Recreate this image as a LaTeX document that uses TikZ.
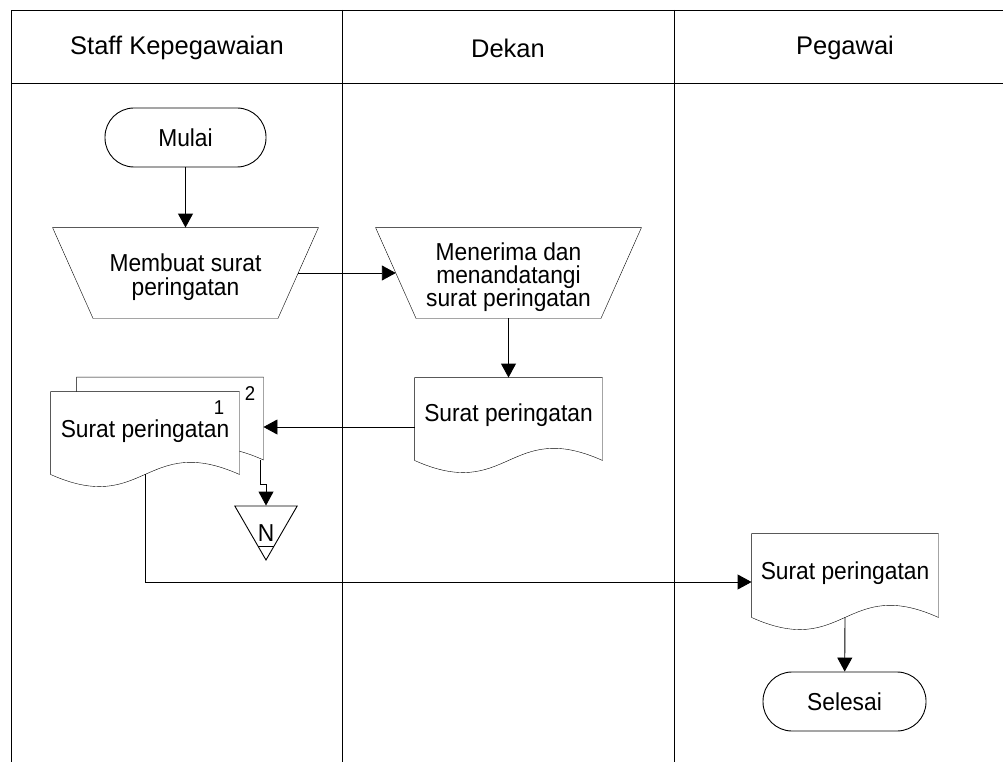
\documentclass[tikz,border=0pt]{standalone}
\usepackage{fontspec}
\setmainfont{Liberation Sans}
\newfontfamily\bodyfont{Liberation Sans}[FakeStretch=0.93]
\usetikzlibrary{arrows.meta,calc,shapes.geometric,backgrounds}
\newcommand\drawdocshape[2]{%
  \draw[fill=white] (#1.north west) -- (#1.south west)
    .. controls ([xshift=#2, yshift=-42pt]#1.south west) and ([xshift=-#2, yshift=42pt]#1.south east) .. (#1.south east)
    -- (#1.north east) -- cycle;}
\begin{document}
\begin{tikzpicture}[x=1pt,y=-1pt, line width=0.9pt,
  every node/.style={font=\bodyfont\fontsize{24.5}{23.3}\selectfont, inner sep=0pt, align=center},
  hdr/.style={font=\fontsize{25.5}{26}\selectfont},
  num/.style={font=\bodyfont\fontsize{20}{20}\selectfont},
  term/.style={draw, rounded corners=29pt, minimum width=161pt, minimum height=59pt},
  opbox/.style={minimum width=224.5pt, minimum height=90pt},
  docbox/.style={minimum width=186pt, minimum height=82pt, text height=17pt, text depth=11pt},
  arr/.style={-{Triangle[length=14pt,width=15pt]}},
]
\useasboundingbox (0,0) rectangle (1003,762);
% frame
\draw (11,762) -- (11,10) -- (1003,10);
\draw (11,83) -- (1003,83);
\draw (342,10) -- (342,762);
\draw (674,10) -- (674,762);
% headers
\node[hdr] (h1) at (177,48) {Staff Kepegawaian};
\node[hdr] (h2) at (508,48) {Dekan};
\node[hdr] (h3) at (845,48) {Pegawai};
% nodes
\node[term] (start) at (185.5,137.5) {Mulai};
\node[opbox] (mem) at (185.5,273) {\rule{0pt}{25.8pt}Membuat surat\\peringatan};
\node[opbox] (men) at (508.5,273) {\rule{0pt}{25.8pt}Menerima dan\\menandatangi\\surat peringatan};
\node[docbox, minimum width=187pt, text depth=13pt] (dd) at (508.5,419) {Surat peringatan};
\node[docbox, text height=0pt, text depth=0pt] (sp2) at (170,418.5) {};
\node[docbox, minimum width=188pt, text depth=9pt] (sp1) at (145,433) {Surat peringatan};
\node[num] (n1) at (219,408) {1};
\node[num] (n2) at (250,394) {2};
\node[draw, regular polygon, regular polygon sides=3, shape border rotate=180, minimum size=72pt] (nn) at (266,524) {};
\node (nl) at (266,533) {N};
\node[docbox, minimum height=83pt, text depth=10pt] (pd) at (845,575.5) {Surat peringatan};
\node[term, minimum width=163pt] (end) at (844.5,701.5) {Selesai};
% outlines
\begin{scope}[on background layer]
\draw ([xshift=-20.25pt]mem.north west) -- ([xshift=20.25pt]mem.north east) -- ([xshift=-20.25pt]mem.south east) -- ([xshift=20.25pt]mem.south west) -- cycle;
\draw ([xshift=-20.25pt]men.north west) -- ([xshift=20.25pt]men.north east) -- ([xshift=-20.25pt]men.south east) -- ([xshift=20.25pt]men.south west) -- cycle;
\drawdocshape{dd}{93.5pt}
\drawdocshape{sp2}{93pt}
\drawdocshape{sp1}{94pt}
\drawdocshape{pd}{93pt}
\end{scope}
\draw ([xshift=-8pt,yshift=-22pt]nn.center) -- ([xshift=8pt,yshift=-22pt]nn.center);
% connectors
\draw[arr] (start) -- (mem);
\draw[arr] (mem.east) -- (men.west);
\draw[arr] (men) -- (dd);
\draw[arr] ([yshift=-8pt]dd.west) -- ([yshift=-8pt]dd.west -| sp2.east);
\draw[arr] ([xshift=-3pt]sp2.south east) -- ++(0,24) -| (nn.north);
\draw[arr] (sp1.south) |- ([yshift=-6.5pt]pd.west);
\draw[arr] (pd.south) -- (end);
\end{tikzpicture}
\end{document}
